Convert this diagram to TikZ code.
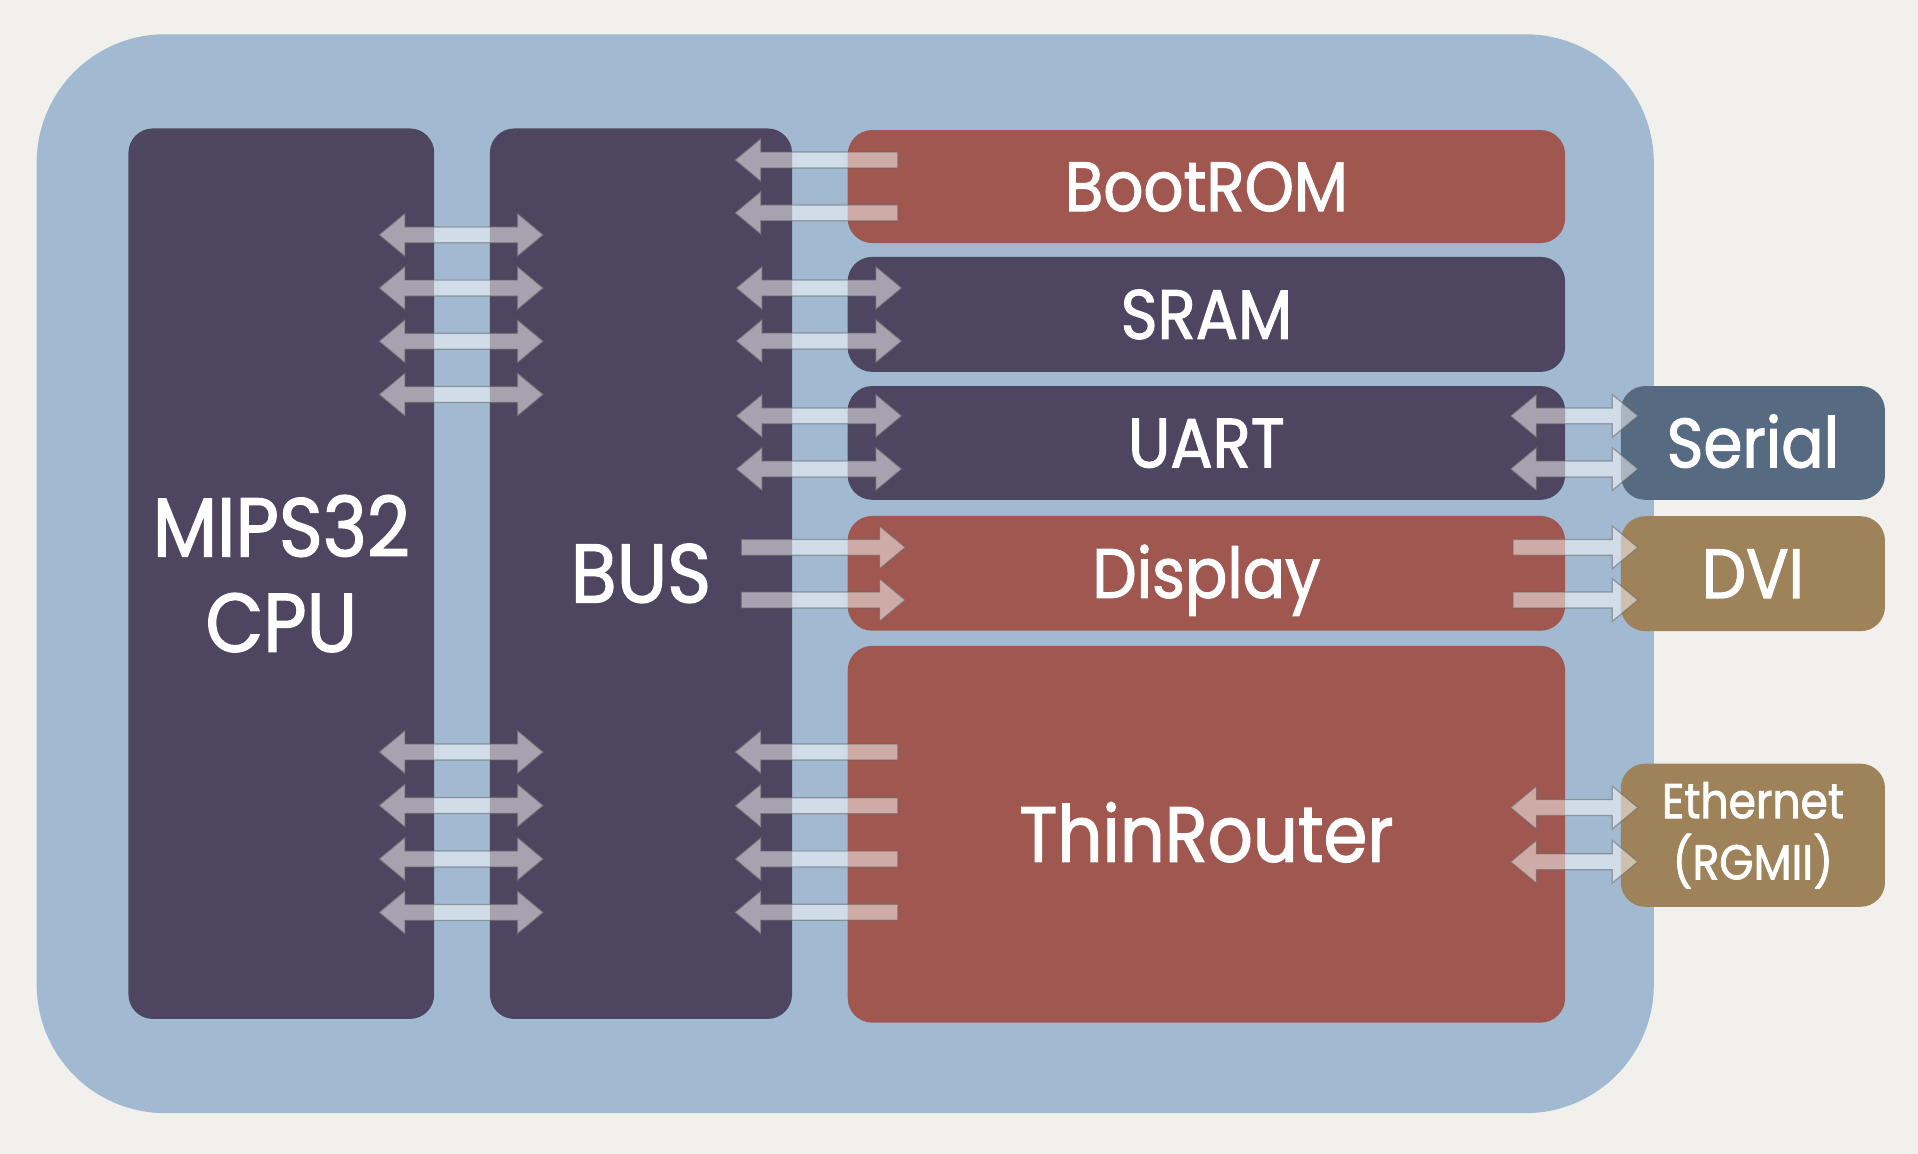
\documentclass[tikz,border=0pt]{standalone}
\usepackage{fontspec}
\setmainfont{Poppins}[FakeStretch=0.9, FakeBold=1.6]
\definecolor{bgc}{HTML}{F1F0EC}
\definecolor{outerblue}{HTML}{A1BAD2}
\definecolor{plum}{HTML}{4E4660}
\definecolor{brick}{HTML}{A0574F}
\definecolor{slate}{HTML}{566B82}
\definecolor{tan}{HTML}{9E8259}
\newcommand\dblarr[3]{\draw[fatarrow] (#1,#3) -- (#1+21,#3-17.5) -- (#1+21,#3-6.5) -- (#2-21,#3-6.5) -- (#2-21,#3-17.5) -- (#2,#3) -- (#2-21,#3+17.5) -- (#2-21,#3+6.5) -- (#1+21,#3+6.5) -- (#1+21,#3+17.5) -- cycle;}
\newcommand\leftarr[3]{\draw[fatarrow] (#1,#3) -- (#1+21,#3-17.5) -- (#1+21,#3-6.5) -- (#2,#3-6.5) -- (#2,#3+6.5) -- (#1+21,#3+6.5) -- (#1+21,#3+17.5) -- cycle;}
\newcommand\rightarr[3]{\draw[fatarrow] (#2,#3) -- (#2-21,#3-17.5) -- (#2-21,#3-6.5) -- (#1,#3-6.5) -- (#1,#3+6.5) -- (#2-21,#3+6.5) -- (#2-21,#3+17.5) -- cycle;}
\begin{document}
\begin{tikzpicture}[x=1pt,y=-1pt,
  blk/.style={rectangle, rounded corners=20pt, inner sep=0pt, text=white},
  bigtxt/.style={font=\fontsize{68}{78}\selectfont},
  midtxt/.style={font=\fontsize{57}{62}\selectfont, text height=40pt, text depth=0pt},
  routertxt/.style={font=\fontsize{64}{70}\selectfont, text height=45pt, text depth=0pt},
  smalltxt/.style={font=\fontsize{40}{50}\selectfont},
  fatarrow/.style={fill=white, fill opacity=0.5, draw=black!60, draw opacity=0.55, line width=1pt, line join=miter}]
\fill[bgc] (0,0) rectangle (1568,943);
\useasboundingbox (0,0) rectangle (1568,943);
% outer chip
\fill[outerblue, rounded corners=105pt] (30,28) rectangle (1352,910);
% main blocks
\node[blk, fill=plum, minimum width=250pt, minimum height=728pt, bigtxt, align=center] (cpu) at (230,469) {MIPS32\\CPU};
\node[blk, fill=plum, minimum width=247pt, minimum height=728pt, bigtxt, text height=47pt, text depth=0pt] (bus) at (524,469) {BUS};
\node[blk, fill=brick, minimum width=586.5pt, minimum height=92.4pt, midtxt] (bootrom) at (986.25,152.5) {BootROM};
\node[blk, fill=plum, minimum width=586.5pt, minimum height=94pt, midtxt] (sram) at (986.25,257) {SRAM};
\node[blk, fill=plum, minimum width=586.5pt, minimum height=93pt, midtxt] (uart) at (986.25,362.1) {UART};
\node[blk, fill=brick, minimum width=586.5pt, minimum height=93.8pt, midtxt] (display) at (986.25,468.7) {Display};
\node[blk, fill=brick, minimum width=586.5pt, minimum height=308pt, routertxt] (router) at (986.25,682) {ThinRouter};
% external blocks
\node[blk, fill=slate, minimum width=216pt, minimum height=93pt, midtxt] (serial) at (1433,362.1) {Serial};
\node[blk, fill=tan, minimum width=216pt, minimum height=94pt, midtxt] (dvi) at (1433,469) {DVI};
\node[blk, fill=tan, minimum width=216pt, minimum height=117pt, smalltxt, align=center] (eth) at (1433,682.8) {Ethernet\\(RGMII)};
% CPU <-> BUS
\foreach \yy in {192,235.5,279,322.5,614.8,658.5,702.2,745.9} {\dblarr{310}{444}{\yy}}
% BUS <- BootROM
\foreach \yy in {130.8,174} {\leftarr{601}{734}{\yy}}
% BUS <-> SRAM, UART
\foreach \yy in {235.4,278.8,340,383.4} {\dblarr{602}{737}{\yy}}
% BUS -> Display
\foreach \yy in {447.5,490.5} {\rightarr{606}{740}{\yy}}
% BUS <- ThinRouter
\foreach \yy in {614.8,658.7,702.3,745.8} {\leftarr{601}{734}{\yy}}
% UART <-> Serial
\foreach \yy in {340,383.4} {\dblarr{1235}{1339}{\yy}}
% Display -> DVI
\foreach \yy in {447.5,490.5} {\rightarr{1237}{1339}{\yy}}
% ThinRouter <-> Ethernet
\foreach \yy in {660.2,704.5} {\dblarr{1235}{1339}{\yy}}
\end{tikzpicture}
\end{document}
